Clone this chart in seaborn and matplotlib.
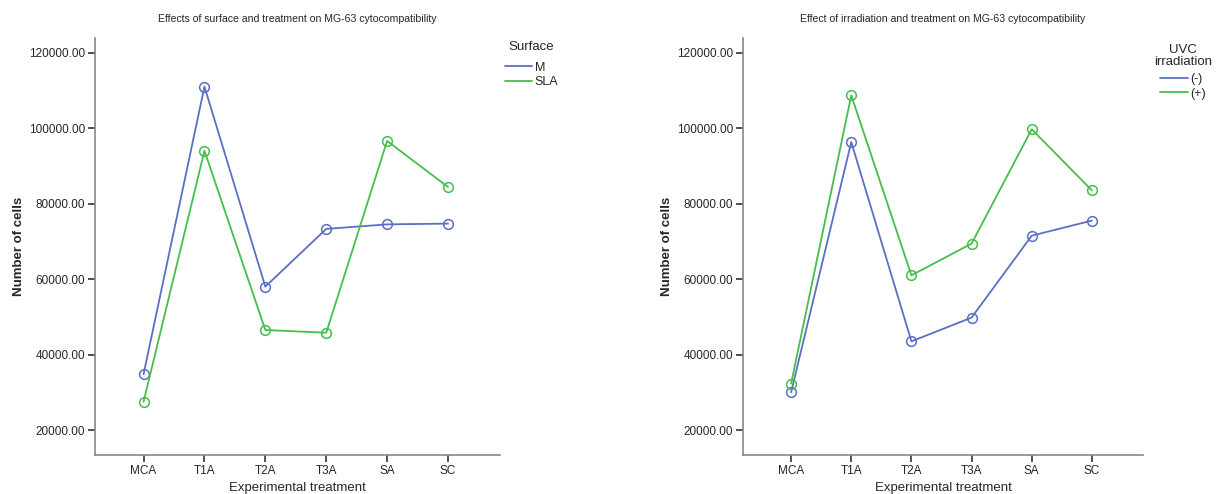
import pandas as pd
import numpy as np
import matplotlib.pyplot as plt
import seaborn as sns
from matplotlib.lines import Line2D
from matplotlib.ticker import FormatStrFormatter

treatments = ['MCA', 'T1A', 'T2A', 'T3A', 'SA', 'SC']

# left panel: surface
surface_m = [34800, 111000, 58000, 73300, 74500, 74700]
surface_sla = [27500, 94000, 46500, 45800, 96600, 84400]

# right panel: UVC irradiation
uvc_neg = [30000, 96300, 43500, 49800, 71500, 75500]
uvc_pos = [32300, 108700, 61000, 69400, 99700, 83500]

blue = '#5a6fc6'
green = '#45bf4c'

sns.set_style('white')
plt.rcParams['font.family'] = ['Liberation Sans', 'DejaVu Sans']

df_surf = pd.DataFrame({
    'Experimental treatment': treatments * 2,
    'Number of cells': surface_m + surface_sla,
    'Surface': ['M'] * 6 + ['SLA'] * 6,
})
df_uvc = pd.DataFrame({
    'Experimental treatment': treatments * 2,
    'Number of cells': uvc_neg + uvc_pos,
    'UVC irradiation': ['(-)'] * 6 + ['(+)'] * 6,
})

fig = plt.figure(figsize=(12.16, 4.94), dpi=100)
ax1 = fig.add_axes([0.078, 0.079, 0.333, 0.845])
ax2 = fig.add_axes([0.611, 0.079, 0.329, 0.845])


def draw(ax, df, hue, levels, title, legend_title, leg_pos, sep):
    sns.lineplot(data=df, x='Experimental treatment', y='Number of cells', hue=hue,
                 palette=dict(zip(levels, [blue, green])), marker='o', markersize=7,
                 linewidth=1.3, sort=False, legend=False, ax=ax)
    for ln in ax.lines:
        c = ln.get_color()
        ln.set_markerfacecolor('none')
        ln.set_markeredgecolor(c)
        ln.set_markeredgewidth(1.1)
    ax.set_ylim(13400, 124000)
    ax.set_xlim(-0.8, 5.85)
    ax.set_yticks([20000, 40000, 60000, 80000, 100000, 120000])
    ax.yaxis.set_major_formatter(FormatStrFormatter('%.2f'))
    for s in ['top', 'right']:
        ax.spines[s].set_visible(False)
    for s in ['left', 'bottom']:
        ax.spines[s].set_color('#888888')
        ax.spines[s].set_linewidth(1.2)
    ax.tick_params(axis='both', direction='out', length=5, width=1.2, color='#333333',
                   labelsize=8.5, pad=2, left=True, bottom=True)
    ax.set_xlabel('Experimental treatment', fontsize=9.5, labelpad=4)
    ax.set_ylabel('Number of cells', fontsize=9.5, fontweight='bold', labelpad=3)
    ax.set_title(title, fontsize=7.6, pad=11)
    handles = [Line2D([], [], color=blue, lw=1.3), Line2D([], [], color=green, lw=1.3)]
    leg = ax.legend(handles, levels, title=legend_title, loc='upper left',
                    bbox_to_anchor=leg_pos, frameon=False, fontsize=9,
                    title_fontsize=9.5, handlelength=2.2, handletextpad=0.2,
                    labelspacing=0.2, borderaxespad=0, alignment='center')
    leg.get_title().set_multialignment('center')
    leg.get_title().set_linespacing(0.95)
    leg._legend_box.sep = sep


draw(ax1, df_surf, 'Surface', ['M', 'SLA'],
     'Effects of surface and treatment on MG-63 cytocompatibility', 'Surface', (1.0, 1.003), 6)
draw(ax2, df_uvc, 'UVC irradiation', ['(-)', '(+)'],
     'Effect of irradiation and treatment on MG-63 cytocompatibility', 'UVC\nirradiation',
     (1.015, 0.996), 4)

fig.savefig('out.png', dpi=100)
